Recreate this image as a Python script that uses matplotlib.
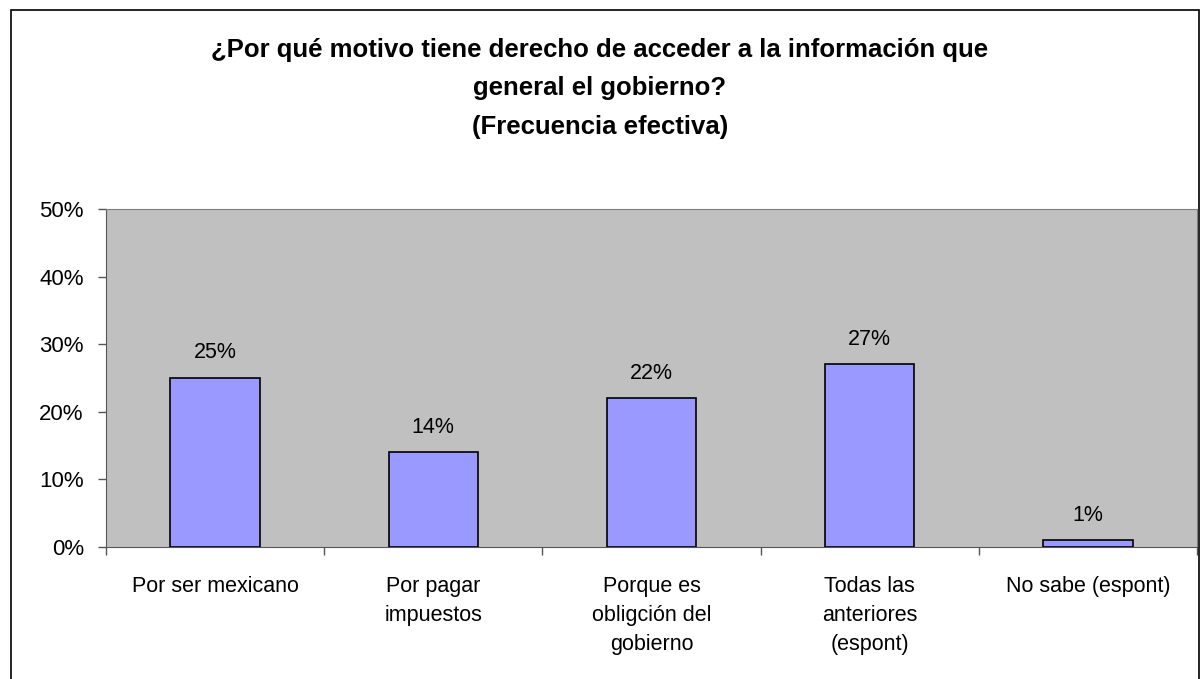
import matplotlib
matplotlib.use("Agg")
import matplotlib.pyplot as plt
from matplotlib.patches import Rectangle
from matplotlib.ticker import FixedLocator, FuncFormatter

categories = ["Por ser mexicano", "Por pagar\nimpuestos", "Porque es\nobligción del\ngobierno",
              "Todas las\nanteriores\n(espont)", "No sabe (espont)"]
values = [25, 14, 22, 27, 1]
labels = ["25%", "14%", "22%", "27%", "1%"]
yticks = [0, 10, 20, 30, 40, 50]
title_lines = ["¿Por qué motivo tiene derecho de acceder a la información que",
               "general el gobierno?",
               "(Frecuencia efectiva)"]

W, H = 1202, 679
fig = plt.figure(figsize=(W / 100, H / 100), dpi=100)
plt.rcParams['font.family'] = ['Liberation Sans', 'DejaVu Sans']

# outer border
fig.patches.append(Rectangle((11 / W, -0.05), (1199 - 11) / W, 1.05 - 10 / H,
                             transform=fig.transFigure, fill=False, edgecolor='black', lw=1.2))

l, r, t, b = 106, 1197, 209, 547
ax = fig.add_axes([l / W, 1 - b / H, (r - l) / W, (b - t) / H])
ax.set_facecolor('#C0C0C0')

x = list(range(len(categories)))
ax.bar(x, values, width=0.41, color='#9999FF', edgecolor='black', linewidth=1.2, zorder=3)
for xi, v, lab in zip(x, values, labels):
    ax.annotate(lab, (xi, v), xytext=(0, 18), textcoords='offset points', ha='center', va='center',
                fontsize=15.5)

ax.set_xlim(-0.5, len(categories) - 0.5)
ax.set_ylim(0, 50)
ax.yaxis.set_major_locator(FixedLocator(yticks))
ax.yaxis.set_major_formatter(FuncFormatter(lambda v, p: f"{int(v)}%"))
ax.tick_params(axis='y', labelsize=16, length=6, width=1, color='#555555', pad=10)

ax.set_xticks([i - 0.5 for i in range(len(categories) + 1)])
ax.set_xticklabels([])
ax.tick_params(axis='x', length=6, width=1, color='#555555')
ax.set_xticks(x, minor=True)
ax.set_xticklabels(categories, minor=True, fontsize=15.5, linespacing=1.5, va='top')
ax.tick_params(axis='x', which='minor', length=0, pad=21)

for s in ['top', 'right']:
    ax.spines[s].set_color('#808080')
for s in ['left', 'bottom']:
    ax.spines[s].set_color('#555555')

ys = [50, 88, 127]
for line, yy in zip(title_lines, ys):
    fig.text(600 / W, 1 - yy / H, line, ha='center', va='center', fontsize=18.5, fontweight='bold')

fig.savefig("out.png", dpi=100)
